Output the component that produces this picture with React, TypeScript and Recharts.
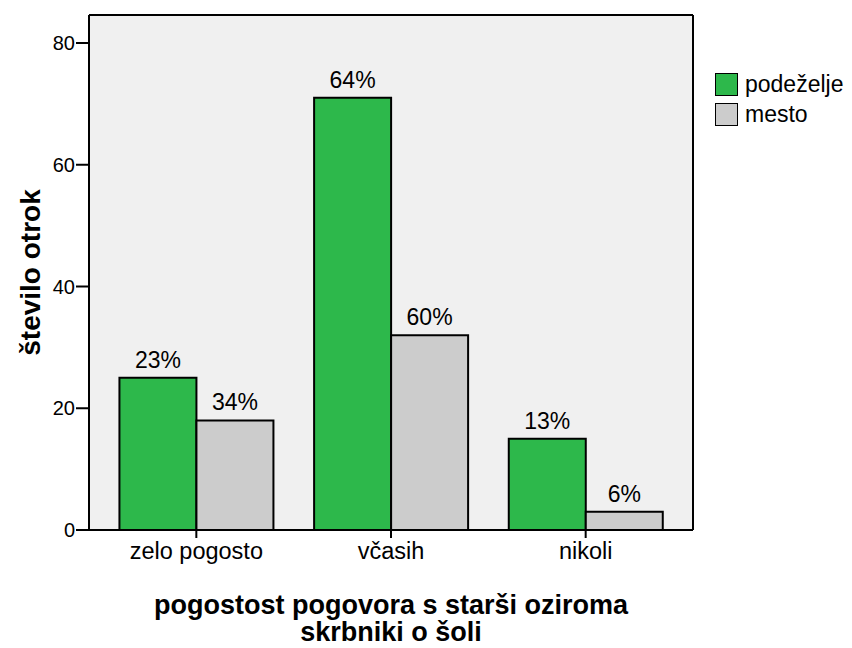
import React from 'react';
import { BarChart, Bar, XAxis, YAxis, CartesianGrid, LabelList, Label } from 'recharts';

const categories = ['zelo pogosto', 'včasih', 'nikoli'];
const podezelje = [25, 71, 15];
const mesto = [18, 32, 3];
const podezeljePct = ['23%', '64%', '13%'];
const mestoPct = ['34%', '60%', '6%'];
const yTicks = [0, 20, 40, 60, 80];
const seriesNames = ['podeželje', 'mesto'];
const colors = ['#2DB84B', '#CCCCCC'];

const data = categories.map((c, i) => ({
  name: c,
  podezelje: podezelje[i],
  mesto: mesto[i],
  pPct: podezeljePct[i],
  mPct: mestoPct[i],
}));

const FONT = 'Arial, "Liberation Sans", sans-serif';

const YTitle = (props: any) => {
  const vb = props.viewBox || {};
  const cy = vb.y + vb.height / 2;
  const x = 40;
  return (
    <text x={x} y={cy} transform={`rotate(-90, ${x}, ${cy})`} textAnchor="middle"
      fontFamily={FONT} fontSize={28} fontWeight="bold" fill="#000">število otrok</text>
  );
};

const XTitle = (props: any) => {
  const vb = props.viewBox || {};
  const cx = 391;
  return (
    <text textAnchor="middle" fontFamily={FONT} fontSize={27} fontWeight="bold" fill="#000">
      <tspan x={cx} y={vb.y + 84}>pogostost pogovora s starši oziroma</tspan>
      <tspan x={cx} y={vb.y + 111}>skrbniki o šoli</tspan>
    </text>
  );
};

export default function App() {
  return (
    <div style={{ position: 'fixed', left: 0, top: 0, width: 852, height: 648, background: '#fff' }}>
      <BarChart width={852} height={648} data={data}
        margin={{ top: 14, right: 158, bottom: 0, left: 9 }}
        barCategoryGap="10.5%" barGap={0}>
        <CartesianGrid horizontal={false} vertical={false} fill="#F0F0F0" />
        <XAxis dataKey="name" padding={{ left: 10, right: 10 }} height={118}
          axisLine={{ stroke: '#000', strokeWidth: 2 }} tickLine={{ stroke: '#000', strokeWidth: 2 }} tickSize={8} tickMargin={4}
          tick={{ fill: '#000', fontSize: 23.5, fontFamily: FONT }}>
          <Label content={XTitle} />
        </XAxis>
        <XAxis xAxisId="top" orientation="top" dataKey="name" height={1} tick={false} tickLine={false}
          axisLine={{ stroke: '#000', strokeWidth: 2 }} />
        <YAxis width={80} domain={[0, 84.6]} ticks={yTicks} allowDataOverflow
          axisLine={{ stroke: '#000', strokeWidth: 2 }} tickLine={{ stroke: '#000', strokeWidth: 2 }} tickSize={13} tickMargin={1}
          tick={{ fill: '#000', fontSize: 20, fontFamily: FONT }}>
          <Label content={YTitle} />
        </YAxis>
        <YAxis yAxisId="right" orientation="right" width={1} domain={[0, 84.6]} tick={false} tickLine={false}
          axisLine={{ stroke: '#000', strokeWidth: 2 }} />
        <Bar dataKey="podezelje" name={seriesNames[0]} fill={colors[0]} stroke="#000" strokeWidth={2} isAnimationActive={false}>
          <LabelList dataKey="pPct" position="top" offset={10} fill="#000" fontSize={23} fontFamily={FONT} />
        </Bar>
        <Bar dataKey="mesto" name={seriesNames[1]} fill={colors[1]} stroke="#000" strokeWidth={2} isAnimationActive={false}>
          <LabelList dataKey="mPct" position="top" offset={10} fill="#000" fontSize={23} fontFamily={FONT} />
        </Bar>
      </BarChart>
      <div style={{ position: 'absolute', left: 715, top: 69, fontFamily: FONT, fontSize: 23, color: '#000' }}>
        {seriesNames.map((n, i) => (
          <div key={n} style={{ display: 'flex', alignItems: 'center', height: 30 }}>
            <div style={{ width: 21, height: 21, background: colors[i], border: '1.5px solid #000', marginRight: 7 }} />
            <span style={{ lineHeight: '30px' }}>{n}</span>
          </div>
        ))}
      </div>
    </div>
  );
}
